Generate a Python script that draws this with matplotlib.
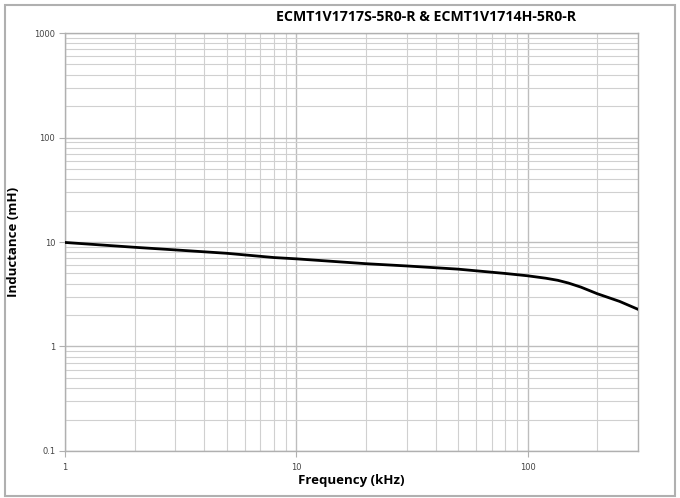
import matplotlib.pyplot as plt
from matplotlib.ticker import LogLocator, FixedLocator, FixedFormatter, NullFormatter
from matplotlib.patches import Rectangle

# Dati
freq_khz = [1, 2, 3, 5, 8, 10, 20, 30, 50, 80, 100, 120, 135, 150, 170, 200, 250, 300]
induct_mh = [9.9, 8.9, 8.4, 7.8, 7.1, 6.9, 6.2, 5.9, 5.5, 5.0, 4.75, 4.5, 4.3, 4.05, 3.7, 3.2, 2.7, 2.27]
x_ticks = [1, 10, 100]
x_labels = ['1', '10', '100']
y_ticks = [0.1, 1, 10, 100, 1000]
y_labels = ['0.1', '1', '10', '100', '1000']
title = 'ECMT1V1717S-5R0-R & ECMT1V1714H-5R0-R'

fig = plt.figure(figsize=(6.8, 4.98), dpi=100)
ax = fig.add_axes([0.0956, 0.0944, 0.8426, 0.8393])

ax.plot(freq_khz, induct_mh, color='black', linewidth=2, zorder=3)

ax.set_xscale('log')
ax.set_yscale('log')
ax.set_xlim(1, 300)
ax.set_ylim(0.1, 1000)

ax.xaxis.set_major_locator(FixedLocator(x_ticks))
ax.xaxis.set_major_formatter(FixedFormatter(x_labels))
ax.yaxis.set_major_locator(FixedLocator(y_ticks))
ax.yaxis.set_major_formatter(FixedFormatter(y_labels))
ax.xaxis.set_minor_locator(LogLocator(base=10, subs=range(2, 10), numticks=20))
ax.yaxis.set_minor_locator(LogLocator(base=10, subs=range(2, 10), numticks=20))
ax.xaxis.set_minor_formatter(NullFormatter())
ax.yaxis.set_minor_formatter(NullFormatter())

ax.grid(True, which='major', color='#bdbdbd', linewidth=1.0)
ax.grid(True, which='minor', color='#d0d0d0', linewidth=0.8)

for s in ax.spines.values():
    s.set_color('#b0b0b0')
    s.set_linewidth(1.0)

ax.tick_params(which='major', length=4, color='#b0b0b0', labelsize=6, labelcolor='#444444', pad=3)
ax.tick_params(which='minor', length=0)
ax.tick_params(axis='x', pad=5)

ax.set_xlabel('Frequency (kHz)', fontsize=9.5, fontweight='bold', family='Open Sans', labelpad=1)
ax.set_ylabel('Inductance (mH)', fontsize=9.5, fontweight='bold', family='Open Sans', labelpad=10)

fig.text(0.626, 0.965, title, ha='center', va='center', fontsize=10.2,
         fontweight='bold', family='Open Sans')

# cornice esterna
fig.patches.append(Rectangle((0.008, 0.005), 0.985, 0.985, transform=fig.transFigure,
                             fill=False, edgecolor='#b0b0b0', linewidth=1.5))

fig.savefig('out.png', dpi=100)
